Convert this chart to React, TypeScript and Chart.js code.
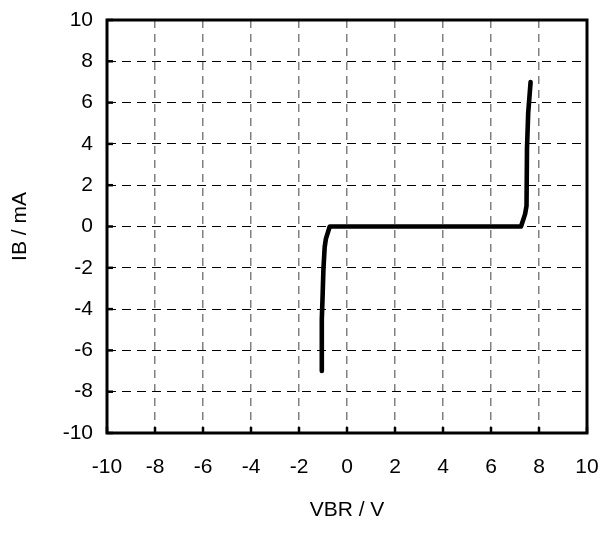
import React, { useEffect, useRef } from "react";
import { Chart, registerables } from "chart.js";

Chart.register(...registerables);

const voltage: number[] = [-1.05, -1.05, -1.02, -0.98, -0.93, -0.88, -0.72, 7.25, 7.42, 7.48, 7.5, 7.55, 7.65];
const current: number[] = [-7, -4.5, -3.5, -2, -1, -0.6, 0, 0, 0.6, 1, 3.8, 5.5, 7];
const xTicks: number[] = [-10, -8, -6, -4, -2, 0, 2, 4, 6, 8, 10];
const yTicks: number[] = [-10, -8, -6, -4, -2, 0, 2, 4, 6, 8, 10];

const FONT = "'Liberation Sans', Arial, sans-serif";

const framePlugin = {
  id: "frame",
  afterDraw(chart: any) {
    const { ctx, chartArea } = chart;
    const xs = chart.scales.x;
    const ys = chart.scales.y;
    ctx.save();
    ctx.strokeStyle = "#000";
    ctx.lineWidth = 2.5;
    ctx.setLineDash([]);
    const tl = 6;
    for (const v of xTicks) {
      const px = xs.getPixelForValue(v);
      ctx.beginPath();
      ctx.moveTo(px, chartArea.bottom);
      ctx.lineTo(px, chartArea.bottom - tl);
      ctx.stroke();
    }
    for (const v of yTicks) {
      const py = ys.getPixelForValue(v);
      ctx.beginPath();
      ctx.moveTo(chartArea.left, py);
      ctx.lineTo(chartArea.left + tl, py);
      ctx.stroke();
    }
    ctx.lineWidth = 3;
    ctx.strokeRect(chartArea.left, chartArea.top, chartArea.right - chartArea.left, chartArea.bottom - chartArea.top);
    ctx.restore();
  },
};

export default function App() {
  const ref = useRef<HTMLCanvasElement | null>(null);
  useEffect(() => {
    if (!ref.current) return;
    const chart = new Chart(ref.current, {
      type: "scatter",
      data: {
        datasets: [
          {
            data: voltage.map((v, i) => ({ x: v, y: current[i] })),
            showLine: true,
            borderColor: "#000",
            borderWidth: 4.6,
            pointRadius: 0,
            tension: 0,
            borderCapStyle: "round",
            borderJoinStyle: "round",
          } as any,
        ],
      },
      options: {
        animation: false,
        responsive: false,
        maintainAspectRatio: false,
        layout: { padding: { left: 8, right: 11, top: 20, bottom: 0 } },
        plugins: { legend: { display: false }, tooltip: { enabled: false } },
        scales: {
          x: {
            type: "linear",
            min: -10,
            max: 10,
            afterBuildTicks: (s: any) => {
              s.ticks = xTicks.map((v) => ({ value: v }));
            },
            afterFit: (s: any) => {
              s.height = 545 - 433;
              s.paddingLeft = 0;
              s.paddingRight = 0;
            },
            ticks: { color: "#000", font: { family: FONT, size: 21 }, padding: 22, maxRotation: 0 },
            grid: { color: "#808080", lineWidth: 1.5, drawTicks: false },
            border: { display: false, dash: [8, 6] },
            title: {
              display: true,
              text: "VBR / V",
              color: "#000",
              font: { family: FONT, size: 21 },
              padding: { top: 0, bottom: 22 },
            },
          },
          y: {
            type: "linear",
            min: -10,
            max: 10,
            afterBuildTicks: (s: any) => {
              s.ticks = yTicks.map((v) => ({ value: v }));
            },
            afterFit: (s: any) => {
              s.width = 107 - 8;
              s.paddingTop = 0;
              s.paddingBottom = 0;
            },
            ticks: { color: "#000", font: { family: FONT, size: 21 }, padding: 14 },
            grid: { color: "#000", lineWidth: 1, drawTicks: false },
            border: { display: false, dash: [9, 6] },
            title: {
              display: true,
              text: "IB / mA",
              color: "#000",
              font: { family: FONT, size: 21 },
              padding: { top: 0, bottom: 0 },
            },
          },
        },
      },
      plugins: [framePlugin],
    });
    return () => chart.destroy();
  }, []);
  return (
    <div style={{ position: "absolute", left: 0, top: 0, width: 598, height: 545, background: "#fff" }}>
      <canvas ref={ref} width={598} height={545} style={{ width: 598, height: 545 }} />
    </div>
  );
}
